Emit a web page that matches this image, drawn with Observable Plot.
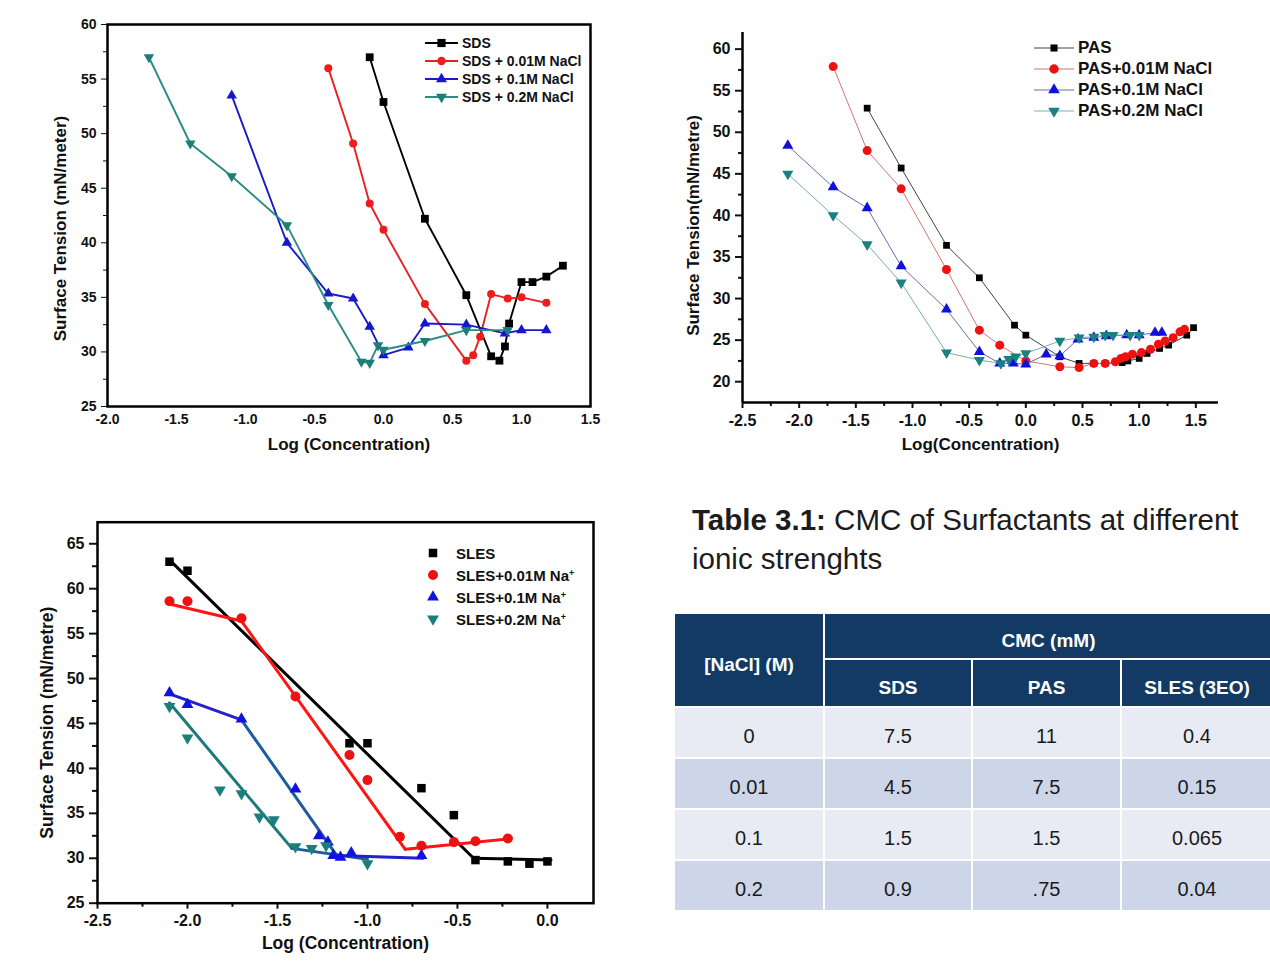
<!DOCTYPE html>
<html>
<head>
<meta charset="utf-8">
<script src="https://cdn.jsdelivr.net/npm/d3@7"></script>
<script src="https://cdn.jsdelivr.net/npm/@observablehq/plot@0.6"></script>
<style>
  html, body { margin: 0; padding: 0; background: #fff; }
  body { width: 1270px; height: 966px; position: relative; overflow: hidden;
         font-family: "Liberation Sans", Arial, Helvetica, sans-serif; }
  .panel { position: absolute; }
  .lg { position: absolute; display: flex; align-items: center; white-space: nowrap;
        font-weight: bold; color: #111; }
  .lg svg { display: block; }
  .lg sup { font-size: 60%; vertical-align: 0.6em; line-height: 0; }
  #ttl { position: absolute; left: 692px; top: 500px; font-size: 29.5px; line-height: 39px; color: #1c1c1c; white-space: nowrap; }
  #tbl { position: absolute; left: 675px; top: 614px; display: grid;
         grid-template-columns: 148px 146px 147px 150px;
         grid-template-rows: 44px 46px 49px 49px 49px 49px; gap: 2px; }
  #tbl div { display: flex; align-items: center; justify-content: center; box-sizing: border-box; }
  #tbl .h { background: #123a64; color: #fff; font-weight: bold; font-size: 19px; padding-top: 10px; }
  #tbl .r0 { background: #e8ebf4; color: #1a1a1a; font-size: 20px; padding-top: 8px; }
  #tbl .r1 { background: #cdd5e9; color: #1a1a1a; font-size: 20px; padding-top: 8px; }
</style>
</head>
<body>
<div id="p1" class="panel" style="left:0;top:0;width:620px;height:470px"></div>
<div id="p2" class="panel" style="left:640px;top:0;width:630px;height:470px"></div>
<div id="p3" class="panel" style="left:0;top:500px;width:640px;height:466px"></div>
<div id="ttl"><b>Table 3.1:</b> CMC of Surfactants at different<br>ionic strenghts</div>
<div id="tbl"></div>
<script>
// ---------------- DATA: SDS (top-left) ----------------
const SDS      = [[-0.1,57.0],[0.0,52.9],[0.3,42.2],[0.6,35.2],[0.78,29.6],[0.84,29.2],[0.88,30.5],[0.91,32.6],[1.0,36.4],[1.08,36.4],[1.18,36.9],[1.3,37.9]];
const SDS_001  = [[-0.4,56.0],[-0.22,49.1],[-0.1,43.6],[0.0,41.2],[0.3,34.4],[0.6,29.2],[0.65,29.7],[0.7,31.4],[0.78,35.3],[0.9,34.9],[1.0,35.0],[1.18,34.5]];
const SDS_01   = [[-1.1,53.5],[-0.7,40.0],[-0.4,35.35],[-0.22,34.9],[-0.1,32.3],[0.0,29.7],[0.18,30.4],[0.3,32.6],[0.6,32.5],[0.88,31.7],[1.0,32.0],[1.18,32.0]];
const SDS_02   = [[-1.7,57.0],[-1.4,49.1],[-1.1,46.1],[-0.7,41.6],[-0.4,34.3],[-0.16,29.1],[-0.1,29.0],[-0.04,30.6],[0.0,30.2],[0.3,31.0],[0.6,32.0],[0.9,32.0]];
const SDS_NAMES = ["SDS", "SDS + 0.01M NaCl", "SDS + 0.1M NaCl", "SDS + 0.2M NaCl"];
const X1_TICKS = [-2.0,-1.5,-1.0,-0.5,0.0,0.5,1.0,1.5];
const Y1_TICKS = [25,30,35,40,45,50,55,60];
const Y1_MINOR = [27.5,32.5,37.5,42.5,47.5,52.5,57.5];

// ---------------- DATA: PAS (top-right) ----------------
const PAS      = [[-1.4,52.9],[-1.1,45.7],[-0.7,36.4],[-0.41,32.5],[-0.1,26.8],[0.0,25.6],[0.3,23.0],[0.47,22.2],[0.6,22.2],[0.7,22.2],[0.85,22.3],[0.9,22.5],[1.0,22.8],[1.07,23.4],[1.18,24.0],[1.26,24.4],[1.42,25.6],[1.48,26.5]];
const PAS_001  = [[-1.7,57.9],[-1.4,47.8],[-1.1,43.2],[-0.7,33.5],[-0.41,26.2],[-0.23,24.4],[0.0,22.5],[0.3,21.8],[0.47,21.7],[0.6,22.2],[0.7,22.2],[0.79,22.4],[0.84,22.8],[0.88,23.0],[0.94,23.3],[1.02,23.5],[1.1,23.9],[1.17,24.5],[1.23,24.9],[1.3,25.3],[1.36,26.0],[1.4,26.3]];
const PAS_01   = [[-2.1,48.4],[-1.7,43.4],[-1.4,40.9],[-1.1,33.9],[-0.7,28.7],[-0.41,23.6],[-0.23,22.2],[-0.11,22.2],[0.0,22.1],[0.18,23.3],[0.3,23.1],[0.46,25.1],[0.6,25.3],[0.71,25.5],[0.89,25.6],[1.0,25.6],[1.14,25.9],[1.2,25.9]];
const PAS_02   = [[-2.1,45.0],[-1.7,40.0],[-1.4,36.5],[-1.1,31.9],[-0.7,23.5],[-0.41,22.6],[-0.22,22.2],[-0.15,22.7],[-0.09,23.0],[0.0,23.4],[0.3,24.9],[0.47,25.3],[0.6,25.4],[0.7,25.6],[0.77,25.6],[0.92,25.6],[1.0,25.6]];
const PAS_NAMES = ["PAS", "PAS+0.01M NaCl", "PAS+0.1M NaCl", "PAS+0.2M NaCl"];
const X2_TICKS = [-2.5,-2.0,-1.5,-1.0,-0.5,0.0,0.5,1.0,1.5];
const X2_MINOR = [-2.25,-1.75,-1.25,-0.75,-0.25,0.25,0.75,1.25];
const Y2_TICKS = [20,25,30,35,40,45,50,55,60];
const Y2_MINOR = [22.5,27.5,32.5,37.5,42.5,47.5,52.5,57.5];

// ---------------- DATA: SLES (bottom-left) ----------------
const SLES      = [[-2.1,63.0],[-2.0,62.0],[-1.1,42.8],[-1.0,42.8],[-0.7,37.8],[-0.52,34.8],[-0.4,29.8],[-0.22,29.65],[-0.1,29.4],[0.0,29.65]];
const SLES_001  = [[-2.1,58.6],[-2.0,58.6],[-1.7,56.7],[-1.4,48.0],[-1.1,41.5],[-1.0,38.7],[-0.82,32.4],[-0.7,31.4],[-0.52,31.8],[-0.4,31.9],[-0.22,32.2]];
const SLES_01   = [[-2.1,48.4],[-2.0,47.1],[-1.7,45.5],[-1.4,37.7],[-1.27,32.5],[-1.22,31.8],[-1.19,30.3],[-1.15,30.1],[-1.09,30.6],[-0.7,30.3]];
const SLES_02   = [[-2.1,46.9],[-2.0,43.4],[-1.82,37.6],[-1.7,37.2],[-1.6,34.6],[-1.52,34.3],[-1.4,31.3],[-1.31,31.1],[-1.23,31.4],[-1.0,29.4]];
const SLES_FIT     = [[-2.1,63.2],[-0.41,30.0],[0.02,29.8]];
const SLES_001_FIT = [[-2.1,58.3],[-1.7,56.4],[-0.79,31.0],[-0.2,32.2]];
const SLES_01_FIT  = [[-2.1,48.3],[-1.7,45.4],[-1.17,30.3],[-0.69,30.0]];
const SLES_02_FIT  = [[-2.1,47.3],[-1.42,31.1],[-1.0,29.9]];
const SLES_NAMES = ["SLES", "SLES+0.01M Na<sup>+</sup>", "SLES+0.1M Na<sup>+</sup>", "SLES+0.2M Na<sup>+</sup>"];
const X3_TICKS = [-2.5,-2.0,-1.5,-1.0,-0.5,0.0];
const X3_MINOR = [-2.25,-1.75,-1.25,-0.75,-0.25];
const Y3_TICKS = [25,30,35,40,45,50,55,60,65];
const Y3_MINOR = [27.5,32.5,37.5,42.5,47.5,52.5,57.5,62.5];

// ---------------- DATA: table ----------------
const NACL  = ["0", "0.01", "0.1", "0.2"];
const CMC_SDS  = ["7.5", "4.5", "1.5", "0.9"];
const CMC_PAS  = ["11", "7.5", "1.5", ".75"];
const CMC_SLES = ["0.4", "0.15", "0.065", "0.04"];
const TABLE_HEAD = ["[NaCl] (M)", "CMC (mM)", "SDS", "PAS", "SLES (3EO)"];

// ---------------- helpers ----------------
const FONT = '"Liberation Sans", Arial, Helvetica, sans-serif';
const S3 = Math.sqrt(3);
const triDown = { draw(ctx, size) {
  const y = -Math.sqrt(size / (S3 * 3));
  ctx.moveTo(0, -y * 2); ctx.lineTo(-S3 * y, y); ctx.lineTo(S3 * y, y); ctx.closePath();
}};
const PLOT_SYM = { square: "square", circle: "circle", up: "triangle", down: triDown };
const D3_SYM = { square: d3.symbolSquare, circle: d3.symbolCircle, up: d3.symbolTriangle, down: triDown };
const fmt1 = d => d.toFixed(1);
const X = d => d[0], Y = d => d[1];

function seriesMarks(s, lw) {
  const m = [];
  if (s.line) m.push(Plot.line(s.data, { x: X, y: Y, stroke: s.line, strokeWidth: lw }));
  m.push(Plot.dot(s.data, { x: X, y: Y, symbol: PLOT_SYM[s.shape], r: s.r, fill: s.color, stroke: "none" }));
  return m;
}
function fitMarks(points, colors, w) {
  return d3.pairs(points).map(([a, b], i) =>
    Plot.link([{ a, b }], { x1: d => d.a[0], y1: d => d.a[1], x2: d => d.b[0], y2: d => d.b[1],
      stroke: colors[i % colors.length], strokeWidth: w, strokeLinecap: "round" }));
}
function addLegend(host, series, names, o) {
  series.forEach((s, i) => {
    const div = document.createElement("div");
    div.className = "lg";
    div.style.left = o.left + "px";
    div.style.top = (o.top + i * o.step - 10) + "px";
    div.style.height = "20px";
    div.style.fontSize = o.fontSize + "px";
    const w = o.lineLen;
    const r = s.r * (o.scale || 1);
    const sym = d3.symbol().type(D3_SYM[s.shape]).size(r * r * Math.PI)();
    let svg = `<svg width="${w}" height="20">`;
    if (o.line) svg += `<line x1="0" x2="${w}" y1="10" y2="10" stroke="${s.line}" stroke-width="${o.lw}"/>`;
    svg += `<path transform="translate(${w / 2},10)" d="${sym}" fill="${s.color}"/></svg>`;
    div.innerHTML = svg + `<span style="margin-left:${o.gap}px">${names[i]}</span>`;
    host.appendChild(div);
  });
}
const baseStyle = size => ({ fontFamily: FONT, fontWeight: "bold", fontSize: size + "px", color: "#111", background: "transparent", overflow: "visible" });
const title = (t, o) => Plot.text([t], { text: d => d, fontWeight: "bold", fill: "#111", ...o });

// ---------------- Chart 1: SDS ----------------
const S1 = [
  { data: SDS,     shape: "square", color: "#000000", line: "#000000", r: 4.4 },
  { data: SDS_001, shape: "circle", color: "#ee1c1c", line: "#e82020", r: 4 },
  { data: SDS_01,  shape: "up",     color: "#1616cc", line: "#1a1acc", r: 3.9 },
  { data: SDS_02,  shape: "down",   color: "#1b7f77", line: "#2a8c84", r: 3.9 }
];
const p1 = Plot.plot({
  width: 620, height: 470,
  marginLeft: 107, marginRight: 30, marginTop: 24, marginBottom: 64,
  x: { domain: [-2, 1.5] }, y: { domain: [25, 60] },
  style: baseStyle(14),
  marks: [
    Plot.axisX({ ticks: X1_TICKS, tickSize: 0, tickPadding: 8, tickFormat: fmt1, label: null }),
    Plot.axisY({ ticks: Y1_TICKS, tickSize: 6, tickPadding: 5, tickFormat: d => d, label: null }),
    Plot.axisY({ ticks: Y1_MINOR, tickSize: 4, tickFormat: () => "", label: null }),
    title("Log (Concentration)", { frameAnchor: "bottom", dy: 43, fontSize: 17 }),
    title("Surface Tension (mN/meter)", { frameAnchor: "left", textAnchor: "middle", rotate: -90, dx: -47, dy: 13, fontSize: 17 }),
    ...S1.flatMap(s => seriesMarks(s, 1.9)),
    Plot.frame({ stroke: "#000", strokeWidth: 2.5 })
  ]
});
document.getElementById("p1").appendChild(p1);
addLegend(document.body, S1, SDS_NAMES, { left: 425, top: 43, step: 18, lineLen: 33, gap: 4, fontSize: 14, line: true, lw: 1.9, scale: 1.05 });

// ---------------- Chart 2: PAS ----------------
const S2 = [
  { data: PAS,     shape: "square", color: "#000000", line: "#444444", r: 3.8 },
  { data: PAS_001, shape: "circle", color: "#ee1111", line: "#cf7474", r: 4.5 },
  { data: PAS_01,  shape: "up",     color: "#1010dd", line: "#6a6ab0", r: 4.1 },
  { data: PAS_02,  shape: "down",   color: "#1a8080", line: "#74b0ac", r: 4.1 }
];
const p2 = Plot.plot({
  width: 630, height: 470,
  marginLeft: 102, marginRight: 52, marginTop: 32, marginBottom: 68,
  x: { domain: [-2.5, 1.7] }, y: { domain: [17.5, 62] },
  style: baseStyle(16),
  marks: [
    Plot.axisX({ ticks: X2_TICKS, tickSize: 6, tickPadding: 6, tickFormat: fmt1, label: null, strokeWidth: 2 }),
    Plot.axisX({ ticks: X2_MINOR, tickSize: 4, tickFormat: () => "", label: null, strokeWidth: 2 }),
    Plot.axisY({ ticks: Y2_TICKS, tickSize: 7, tickPadding: 5, tickFormat: d => d, label: null, strokeWidth: 2 }),
    Plot.axisY({ ticks: Y2_MINOR, tickSize: 4, tickFormat: () => "", label: null, strokeWidth: 2 }),
    Plot.ruleX([-2.5], { stroke: "#000", strokeWidth: 2.5 }),
    Plot.ruleY([17.5], { stroke: "#000", strokeWidth: 2.5 }),
    title("Log(Concentration)", { frameAnchor: "bottom", dy: 47, fontSize: 17 }),
    title("Surface Tension(mN/metre)", { frameAnchor: "left", textAnchor: "middle", rotate: -90, dx: -49, dy: 8, fontSize: 17 }),
    ...S2.flatMap(s => seriesMarks(s, 1))
  ]
});
document.getElementById("p2").appendChild(p2);
addLegend(document.body, S2, PAS_NAMES, { left: 1034, top: 48, step: 21, lineLen: 40, gap: 4, fontSize: 17, line: true, lw: 1, scale: 1.05 });

// ---------------- Chart 3: SLES ----------------
const S3s = [
  { data: SLES,     shape: "square", color: "#000000", r: 4.8 },
  { data: SLES_001, shape: "circle", color: "#ee1111", r: 5 },
  { data: SLES_01,  shape: "up",     color: "#1212e0", r: 4.4 },
  { data: SLES_02,  shape: "down",   color: "#1a7f7a", r: 4.4 }
];
const p3 = Plot.plot({
  width: 640, height: 466,
  marginLeft: 97, marginRight: 47, marginTop: 21.7, marginBottom: 63.3,
  x: { domain: [-2.5, 0.256] }, y: { domain: [25, 67.4] },
  style: baseStyle(16),
  marks: [
    Plot.axisX({ ticks: X3_TICKS, tickSize: 6, tickPadding: 5, tickFormat: fmt1, label: null, strokeWidth: 2 }),
    Plot.axisX({ ticks: X3_MINOR, tickSize: 4, tickFormat: () => "", label: null, strokeWidth: 2 }),
    Plot.axisY({ ticks: Y3_TICKS, tickSize: 8, tickPadding: 5, tickFormat: d => d, label: null, strokeWidth: 2 }),
    Plot.axisY({ ticks: Y3_MINOR, tickSize: 5, tickFormat: () => "", label: null, strokeWidth: 2 }),
    title("Log (Concentration)", { frameAnchor: "bottom", dy: 46, fontSize: 17.5 }),
    title("Surface Tension (mN/metre)", { frameAnchor: "left", textAnchor: "middle", rotate: -90, dx: -50, dy: 10, fontSize: 17.5 }),
    ...fitMarks(SLES_FIT, ["#000000"], 3),
    ...fitMarks(SLES_001_FIT, ["#ff1414"], 3),
    ...fitMarks(SLES_02_FIT, ["#1d7a78", "#1f5d9a"], 3),
    ...fitMarks(SLES_01_FIT, ["#2424c4", "#1f5c9c", "#2222cc"], 3),
    ...S3s.flatMap(s => seriesMarks(s, 0)),
    Plot.frame({ stroke: "#000", strokeWidth: 2.5 })
  ]
});
document.getElementById("p3").appendChild(p3);
addLegend(document.body, S3s, SLES_NAMES, { left: 425, top: 553, step: 22, lineLen: 16, gap: 15, fontSize: 15, line: false });

// ---------------- Table ----------------
const tbl = document.getElementById("tbl");
function cell(text, cls, style) {
  const d = document.createElement("div");
  d.className = cls; d.textContent = text;
  if (style) Object.assign(d.style, style);
  tbl.appendChild(d);
}
cell(TABLE_HEAD[0], "h", { gridColumn: "1", gridRow: "1 / span 2" });
cell(TABLE_HEAD[1], "h", { gridColumn: "2 / span 3", gridRow: "1" });
cell(TABLE_HEAD[2], "h", { gridColumn: "2", gridRow: "2" });
cell(TABLE_HEAD[3], "h", { gridColumn: "3", gridRow: "2" });
cell(TABLE_HEAD[4], "h", { gridColumn: "4", gridRow: "2" });
NACL.forEach((n, i) => {
  const cls = i % 2 ? "r1" : "r0";
  [n, CMC_SDS[i], CMC_PAS[i], CMC_SLES[i]].forEach((v, j) =>
    cell(v, cls, { gridColumn: String(j + 1), gridRow: String(i + 3) }));
});
</script>
</body>
</html>
